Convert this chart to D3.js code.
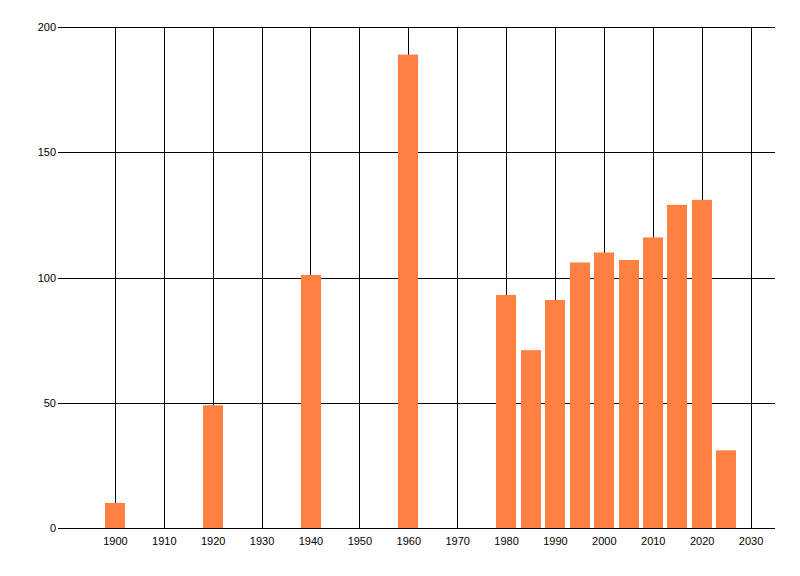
<!DOCTYPE html>
<html><head><meta charset="utf-8">
<script src="https://cdn.jsdelivr.net/npm/d3@7"></script>
<style>body{margin:0;background:#fff;}svg{display:block;}</style>
</head><body>
<svg id="chart" width="800" height="576"></svg>
<script>
const years = [1900, 1920, 1940, 1960, 1980, 1985, 1990, 1995, 2000, 2005, 2010, 2015, 2020, 2025];
const values = [10, 49, 101, 189, 93, 71, 91, 106, 110, 107, 116, 129, 131, 31];
const xTicks = [1900, 1910, 1920, 1930, 1940, 1950, 1960, 1970, 1980, 1990, 2000, 2010, 2020, 2030];
const yTicks = [0, 50, 100, 150, 200];

const svg = d3.select("#chart");
const mLeft = 66, mRight = 775, mTop = 27, mBottom = 528;
const x = d3.scaleLinear().domain([1890, 2035]).range([mLeft, mRight]);
const y = d3.scaleLinear().domain([0, 200]).range([mBottom, mTop]);
const font = "'Liberation Sans', Arial, sans-serif";

// horizontal gridlines
svg.append("g").selectAll("line").data(yTicks).join("line")
  .attr("x1", mLeft - 8).attr("x2", mRight)
  .attr("y1", d => Math.round(y(d)) + 0.5).attr("y2", d => Math.round(y(d)) + 0.5)
  .attr("stroke", "#000").attr("stroke-width", 1);
// vertical gridlines
svg.append("g").selectAll("line").data(xTicks).join("line")
  .attr("x1", d => Math.round(x(d)) + 0.5).attr("x2", d => Math.round(x(d)) + 0.5)
  .attr("y1", mTop).attr("y2", mBottom)
  .attr("stroke", "#000").attr("stroke-width", 1);

// bars
const bw = x(1902) - x(1898);
svg.append("g").selectAll("rect").data(years).join("rect")
  .attr("x", (d) => Math.round(x(d) - bw / 2))
  .attr("width", Math.round(bw))
  .attr("y", (d, i) => y(values[i]))
  .attr("height", (d, i) => mBottom - y(values[i]))
  .attr("fill", "#ff8040");

// x axis line on top
svg.append("line").attr("x1", mLeft - 8).attr("x2", mRight)
  .attr("y1", mBottom + 0.5).attr("y2", mBottom + 0.5).attr("stroke", "#000");

// y labels
svg.append("g").selectAll("text").data(yTicks).join("text")
  .attr("x", 56).attr("y", d => y(d) + 4)
  .attr("text-anchor", "end")
  .attr("font-family", font).attr("font-size", 11).attr("fill", "#000")
  .text(d => d);
// x labels
svg.append("g").selectAll("text").data(xTicks).join("text")
  .attr("x", d => x(d) + 0.5).attr("y", 545)
  .attr("text-anchor", "middle")
  .attr("font-family", font).attr("font-size", 11).attr("fill", "#000")
  .text(d => d);
</script>
</body></html>
